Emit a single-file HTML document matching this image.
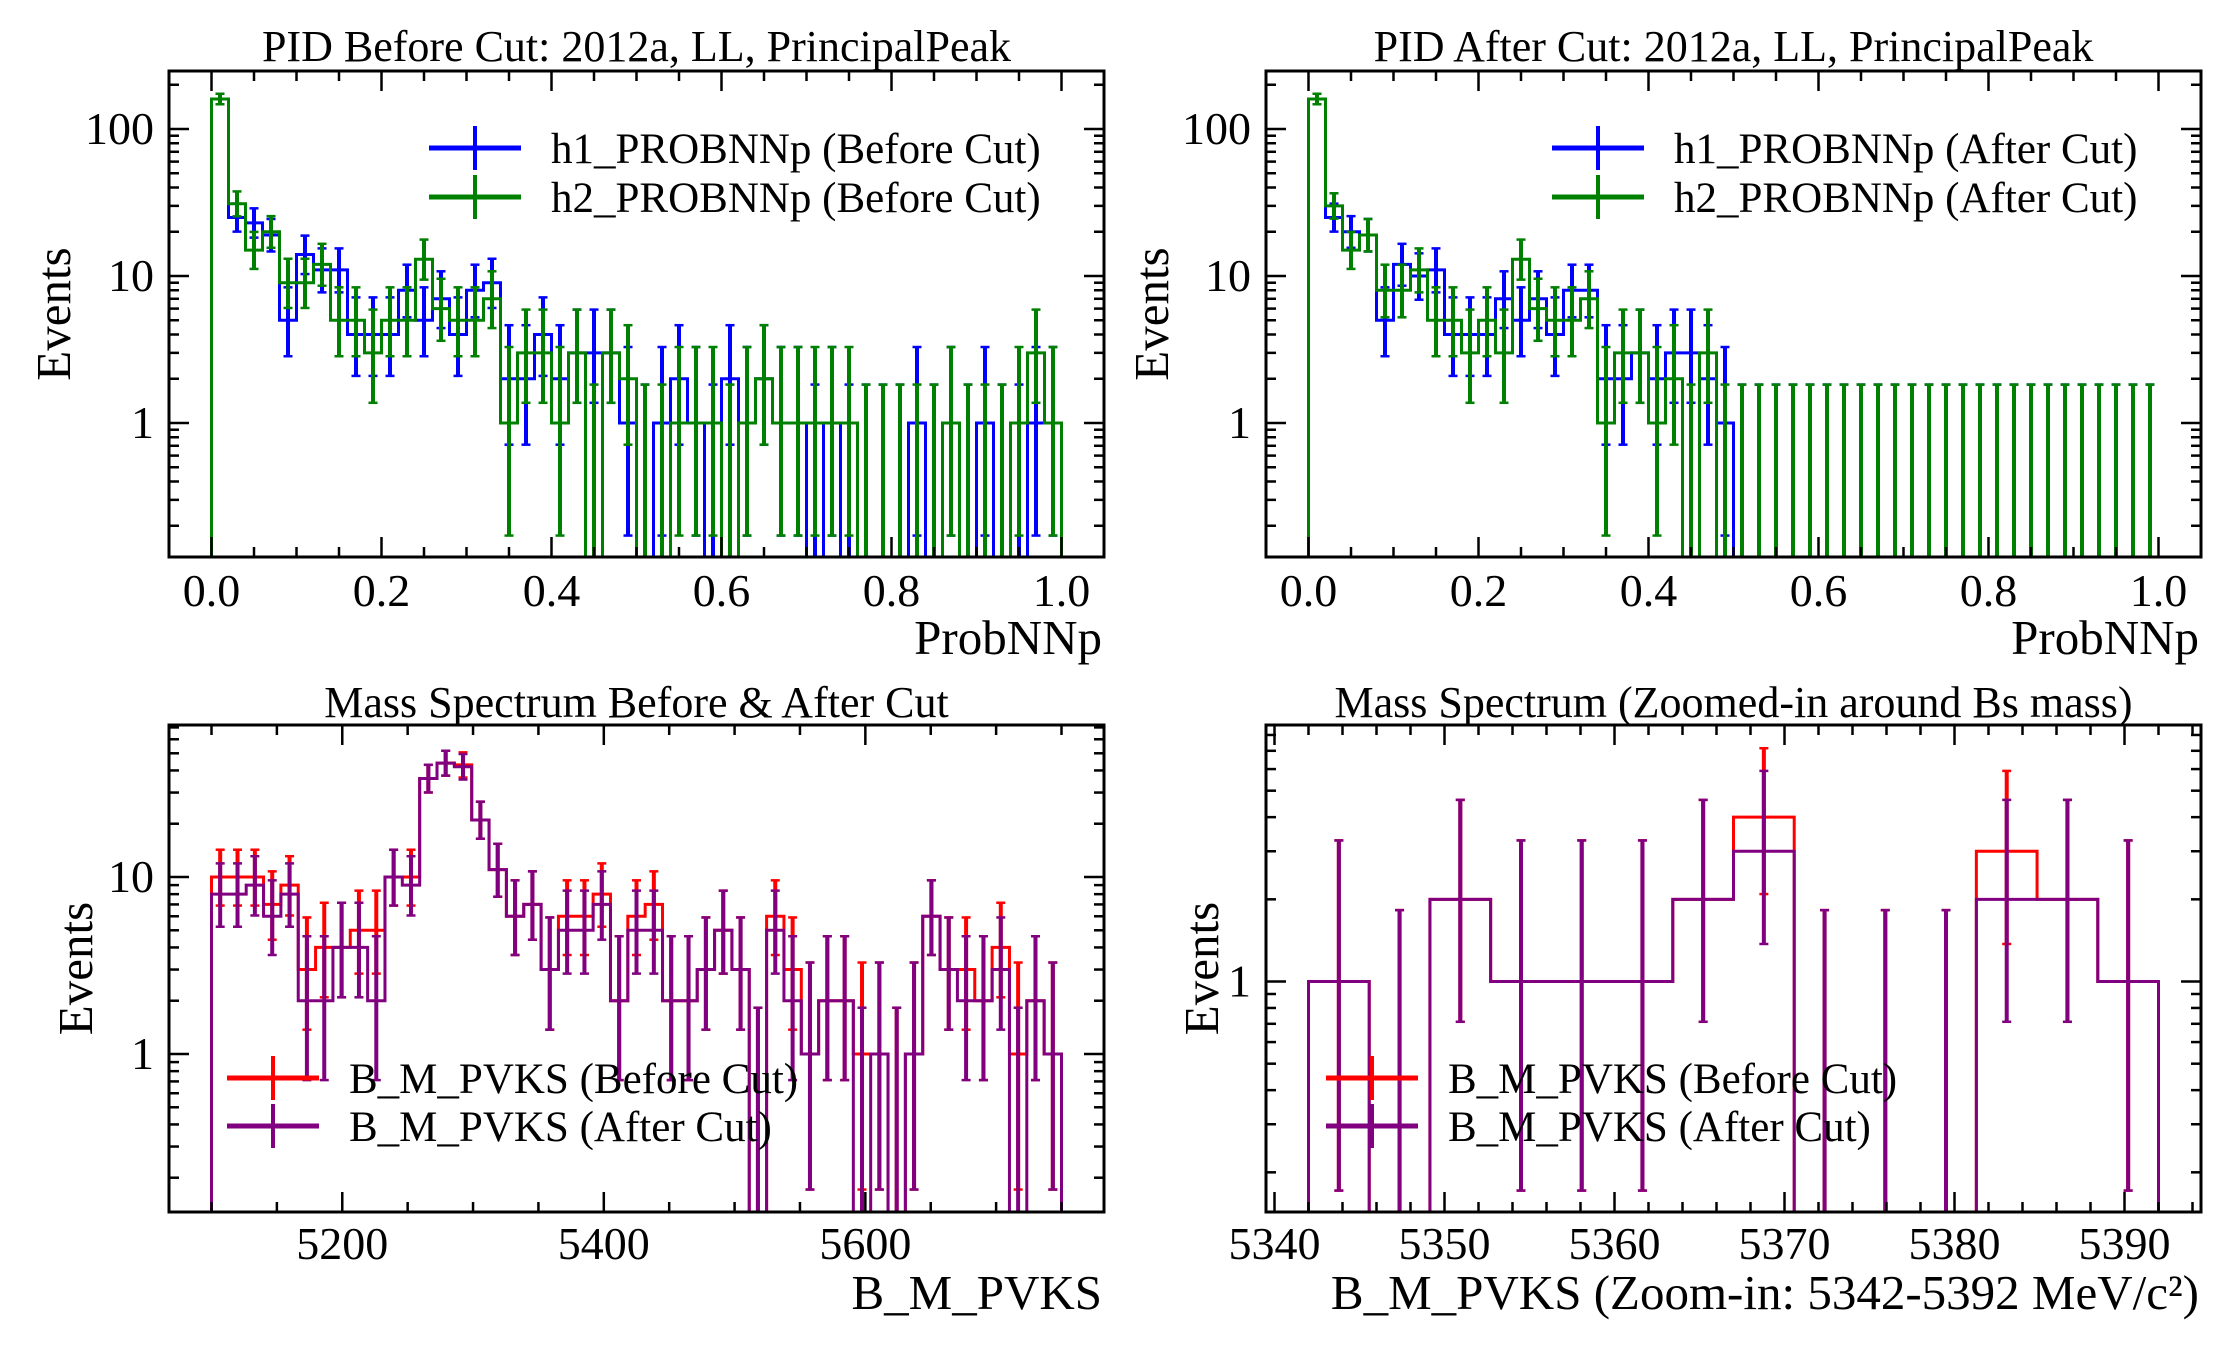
<!DOCTYPE html>
<html><head><meta charset="utf-8">
<style>
html,body{margin:0;padding:0;background:#fff;}
svg{display:block;}
text{font-family:"Liberation Serif","DejaVu Serif",serif;fill:#000;}
</style></head>
<body>
<svg id="fig" xmlns="http://www.w3.org/2000/svg" width="2230" height="1350" viewBox="0 0 2230 1350">
<rect x="0" y="0" width="2230" height="1350" fill="#fff"/>
</svg>
<script>
// ---- data: PID before cut (50 bins, 0..1) ----
const pidBeforeH1 = [160,25,23,19,5,14,11,11,4,4,4,8,5,7,4,8,9,2,2,4,2,3,3,3,1,0,1,2,1,0,2,1,2,1,1,0,1,0,0,0,0,1,0,1,0,1,0,0,1,1];
const pidBeforeH2 = [160,31,15,20,9,9,12,5,5,3,5,5,13,6,5,5,7,1,3,3,1,3,0,3,2,0,0,1,1,1,0,1,2,1,1,1,1,1,0,0,0,0,0,1,0,0,0,1,3,1];
// ---- data: PID after cut ----
const pidAfterH1 = [160,25,20,19,5,12,10,11,4,4,4,7,5,7,4,8,8,2,2,3,2,3,3,2,1,0,0,0,0,0,0,0,0,0,0,0,0,0,0,0,0,0,0,0,0,0,0,0,0,0];
const pidAfterH2 = [160,30,15,19,8,8,11,5,5,3,5,3,13,6,5,5,7,1,3,3,1,2,0,3,0,0,0,0,0,0,0,0,0,0,0,0,0,0,0,0,0,0,0,0,0,0,0,0,0,0];
// ---- data: mass spectrum 5100..5750 ----
const massBefore = [10,10,10,7,9,3,4,4,5,5,10,10,36,44,43,21,11,6,7,3,6,6,8,2,6,7,2,2,3,5,3,0,6,3,1,2,2,1,1,0,1,6,3,3,2,4,1,2,1];
const massAfter  = [8,8,9,6,8,2,2,4,4,2,10,9,36,44,42,21,11,6,7,3,5,5,7,2,5,5,2,2,3,5,3,0,5,2,1,2,2,0,1,0,1,6,3,2,2,3,0,2,1];
// ---- data: zoomed mass 5342..5392 ----
const zoomBefore = [1,0,2,1,1,1,2,4,0,0,0,3,2,1];
const zoomAfter  = [1,0,2,1,1,1,2,3,0,0,0,2,2,1];
// ---- tick labels ----
const pidXTicks = [0.0,0.2,0.4,0.6,0.8,1.0];
const massXTicks = [5200,5400,5600];
const zoomXTicks = [5340,5350,5360,5370,5380,5390];
const pidYTicks = [1,10,100];
const massYTicks = [1,10];
const zoomYTicks = [1];

const NS = "http://www.w3.org/2000/svg";
const svg = document.getElementById('fig');
function mk(tag, attrs, parent){
  const e = document.createElementNS(NS, tag);
  for (const k in attrs) e.setAttribute(k, attrs[k]);
  (parent||svg).appendChild(e);
  return e;
}
function gLow(n){ if(n<=0) return 0; return n*Math.pow(1-1/(9*n)-1/(3*Math.sqrt(n)),3); }
function gUp(n){ const m=n+1; return m*Math.pow(1-1/(9*m)+1/(3*Math.sqrt(m)),3); }

function panel(o){
  const g = mk('g', {});
  
  
  const X = v => o.x0 + (v - o.xmin)/(o.xmax - o.xmin)*(o.x1 - o.x0);
  const Y = v => o.y1 - (Math.log10(v) - o.lmin)/(o.lmax - o.lmin)*(o.y1 - o.y0);
  const cid = 'clip-' + o.name;
  const cp = mk('clipPath', {id: cid}, g);
  mk('rect', {x:o.x0, y:o.y0, width:o.x1-o.x0, height:o.y1-o.y0}, cp);
  const plot = mk('g', {'clip-path':'url(#'+cid+')'}, g);
  
  
  const bottom = o.y1 + 10;
  o.series.forEach((s, si) => {
    const nb = s.vals.length;
    const w = (o.hi - o.lo)/nb;
    const yv = v => v > 0 ? Y(v) : bottom;
    let d = 'M' + X(o.lo) + ',' + bottom;
    s.vals.forEach((v, i) => {
      d += ' L' + X(o.lo + i*w) + ',' + yv(v) + ' L' + X(o.lo + (i+1)*w) + ',' + yv(v);
    });
    d += ' L' + X(o.hi) + ',' + bottom;
    const p = mk('path', {d:d, fill:'none', stroke:s.color, 'stroke-width':3}, plot);
    
    
    s.vals.forEach((v, i) => {
      const cx = X(o.lo + (i+0.5)*w);
      const yt = Y(gUp(v));
      const yb = v > 0 ? Y(gLow(v)) : bottom;
      const eb = mk('g', {stroke:s.color}, plot);
      
      
      mk('line', {x1:cx, x2:cx, y1:yt, y2:Math.min(yb, bottom), 'stroke-width':4}, eb);
      mk('line', {x1:cx-4.5, x2:cx+4.5, y1:yt, y2:yt, 'stroke-width':2.5}, eb);
      if (v > 0) mk('line', {x1:cx-4.5, x2:cx+4.5, y1:yb, y2:yb, 'stroke-width':2.5}, eb);
    });
  });
  const fr = mk('rect', {x:o.x0, y:o.y0, width:o.x1-o.x0, height:o.y1-o.y0, fill:'none', stroke:'#000', 'stroke-width':3}, g);
  
  
  const xt = mk('g', {stroke:'#000', 'stroke-width':2.5}, g);
  
  
  const st = o.xMinor;
  for (let k = Math.ceil(o.xmin/st - 1e-9); k*st <= o.xmax + 1e-9; k++){
    const v = k*st;
    const isMaj = Math.abs(v/o.xMajor - Math.round(v/o.xMajor)) < 1e-6;
    const L = isMaj ? 20 : 10, px = X(v);
    mk('line', {x1:px, x2:px, y1:o.y1, y2:o.y1-L}, xt);
    mk('line', {x1:px, x2:px, y1:o.y0, y2:o.y0+L}, xt);
  }
  o.xTicks.forEach(v => {
    const t = mk('text', {x:X(v), y:o.tickBase, 'text-anchor':'middle', 'font-size':46}, g);
    t.textContent = o.fmt(v);
    
    
  });
  const yt2 = mk('g', {stroke:'#000', 'stroke-width':2.5}, g);
  
  
  for (let e = Math.floor(o.lmin); e <= Math.ceil(o.lmax); e++){
    for (let m = 1; m <= 9; m++){
      const lv = e + Math.log10(m);
      if (lv < o.lmin || lv > o.lmax) continue;
      const L = m === 1 ? 20 : 10, py = Y(Math.pow(10, lv));
      mk('line', {x1:o.x0, x2:o.x0+L, y1:py, y2:py}, yt2);
      mk('line', {x1:o.x1, x2:o.x1-L, y1:py, y2:py}, yt2);
    }
  }
  o.yTicks.forEach(v => {
    const t = mk('text', {x:o.x0-15, y:Y(v)+15, 'text-anchor':'end', 'font-size':46}, g);
    t.textContent = String(v);
    
    
  });
  const ti = mk('text', {x:(o.x0+o.x1)/2, y:o.titleBase, 'text-anchor':'middle', 'font-size':44}, g);
  ti.textContent = o.title;
  
  
  const xl = mk('text', {x:o.x1-2, y:o.xlabBase, 'text-anchor':'end', 'font-size':49}, g);
  xl.textContent = o.xlabel;
  
  
  const yl = mk('text', {x:0, y:0, 'text-anchor':'middle', 'font-size':49, transform:'translate('+o.ylabX+','+((o.y0+o.y1)/2 - o.ylabShift)+') rotate(-90)'}, g);
  yl.textContent = 'Events';
  
  
  const lg = mk('g', {}, g);
  
  
  o.series.forEach((s, si) => {
    const ly = o.legY[si];
    const le = mk('g', {}, lg);
    
    
    mk('line', {x1:o.legX, x2:o.legX+92, y1:ly, y2:ly, stroke:s.color, 'stroke-width':5}, le);
    mk('line', {x1:o.legX+46, x2:o.legX+46, y1:ly-22, y2:ly+22, stroke:s.color, 'stroke-width':4}, le);
    const t = mk('text', {x:o.legX+122, y:ly+15, 'font-size':43}, le);
    t.textContent = s.label;
  });
}

panel({name:'pid-before-panel', x0:169, x1:1104, y0:71, y1:557, xmin:-0.05, xmax:1.05,
  lmin:-0.9116, lmax:2.3946, lo:0, hi:1, xMajor:0.2, xMinor:0.05, xTicks:pidXTicks, fmt:v=>v.toFixed(1),
  yTicks:pidYTicks, tickBase:606, titleBase:61, xlabBase:654, ylabX:70, ylabShift:0,
  title:'PID Before Cut: 2012a, LL, PrincipalPeak', xlabel:'ProbNNp', legX:429, legY:[148,197],
  series:[{vals:pidBeforeH1, color:'#0000ff', key:'h1-before', label:'h1_PROBNNp (Before Cut)'},
          {vals:pidBeforeH2, color:'#008000', key:'h2-before', label:'h2_PROBNNp (Before Cut)'}]});

panel({name:'pid-after-panel', x0:1266, x1:2201, y0:71, y1:557, xmin:-0.05, xmax:1.05,
  lmin:-0.9116, lmax:2.3946, lo:0, hi:1, xMajor:0.2, xMinor:0.05, xTicks:pidXTicks, fmt:v=>v.toFixed(1),
  yTicks:pidYTicks, tickBase:606, titleBase:61, xlabBase:654, ylabX:1168, ylabShift:0,
  title:'PID After Cut: 2012a, LL, PrincipalPeak', xlabel:'ProbNNp', legX:1552, legY:[148,197],
  series:[{vals:pidAfterH1, color:'#0000ff', key:'h1-after', label:'h1_PROBNNp (After Cut)'},
          {vals:pidAfterH2, color:'#008000', key:'h2-after', label:'h2_PROBNNp (After Cut)'}]});

panel({name:'mass-panel', x0:169, x1:1104, y0:725, y1:1212, xmin:5067.5, xmax:5782.5,
  lmin:-0.8927, lmax:1.8588, lo:5100, hi:5750, xMajor:200, xMinor:50, xTicks:massXTicks, fmt:v=>String(v),
  yTicks:massYTicks, tickBase:1259, titleBase:717, xlabBase:1309, ylabX:92, ylabShift:0,
  title:'Mass Spectrum Before & After Cut', xlabel:'B_M_PVKS', legX:227, legY:[1078,1126],
  series:[{vals:massBefore, color:'#ff0000', key:'mass-before', label:'B_M_PVKS (Before Cut)'},
          {vals:massAfter, color:'#800080', key:'mass-after', label:'B_M_PVKS (After Cut)'}]});

panel({name:'zoom-mass-panel', x0:1266, x1:2201, y0:725, y1:1212, xmin:5339.5, xmax:5394.5,
  lmin:-0.8443, lmax:0.9396, lo:5342, hi:5392, xMajor:10, xMinor:2, xTicks:zoomXTicks, fmt:v=>String(v),
  yTicks:zoomYTicks, tickBase:1259, titleBase:717, xlabBase:1309, ylabX:1218, ylabShift:0,
  title:'Mass Spectrum (Zoomed-in around Bs mass)', xlabel:'B_M_PVKS (Zoom-in: 5342-5392 MeV/c²)', legX:1326, legY:[1078,1126],
  series:[{vals:zoomBefore, color:'#ff0000', key:'zoom-before', label:'B_M_PVKS (Before Cut)'},
          {vals:zoomAfter, color:'#800080', key:'zoom-after', label:'B_M_PVKS (After Cut)'}]});
</script>
</body></html>
